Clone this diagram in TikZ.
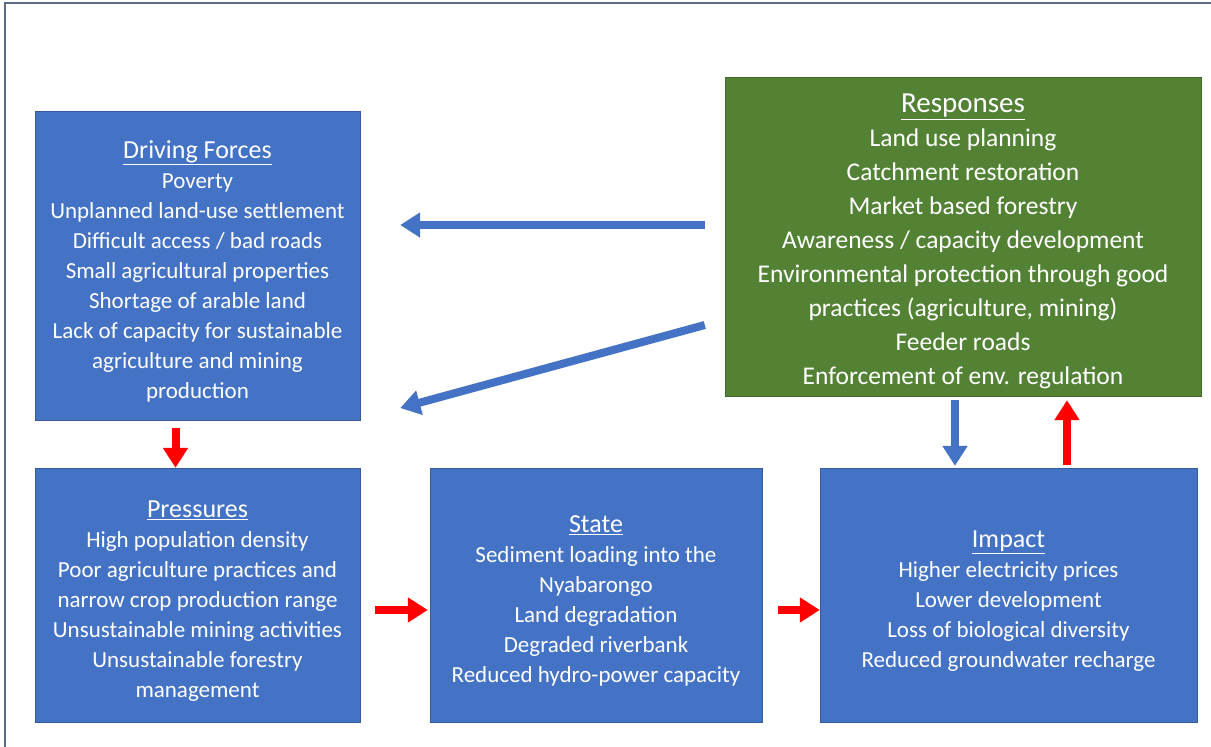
\documentclass[tikz,border=0pt]{standalone}
\usepackage{fontspec}
\setmainfont{Carlito}
\usetikzlibrary{arrows.meta, calc}
\definecolor{boxblue}{HTML}{4472C4}
\definecolor{boxgreen}{HTML}{548235}
\definecolor{framegray}{HTML}{5B6B8C}
\newcommand{\titre}[2][26]{{\rule{0pt}{29pt}\fontsize{#1}{30}\selectfont\underline{#2}}}
\begin{document}
\begin{tikzpicture}[x=1pt, y=-1pt,
    dpsir/.style={draw=boxblue!80!black, fill=boxblue, text=white, align=center,
      font=\fontsize{23}{30}\selectfont, inner sep=0pt},
    reponse/.style={dpsir, draw=boxgreen!80!black, fill=boxgreen, font=\fontsize{25.5}{34}\selectfont},
    flechebleue/.style={line width=8pt, boxblue, -{Triangle[length=20pt, width=24pt]}},
    flecherouge/.style={line width=8pt, red, -{Triangle[length=20pt, width=24pt]}}]
    \useasboundingbox (0,0) rectangle (1211,747);
    % Cadre de la figure
    \draw[framegray, line width=1.2pt] (5,747) -- (5,3) -- (1211,3);

    % Les cinq boites
    \node[dpsir, minimum width=325pt, minimum height=309pt] (drivers) at (197.5,265.5)
      {\titre{Driving Forces}\\ Poverty\\ Unplanned land-use settlement\\ Difficult access / bad roads\\
       Small agricultural properties\\ Shortage of arable land\\ Lack of capacity for sustainable\\
       agriculture and mining\\ production};
    \node[reponse, minimum width=476pt, minimum height=319pt] (responses) at (963,236.5)
      {\titre[29]{Responses}\\ Land use planning\\ Catchment restoration\\ Market based forestry\\
       Awareness / capacity development\\ Environmental protection through good\\
       practices (agriculture, mining)\\ Feeder roads\\ Enforcement of env. regulation};
    \node[dpsir, minimum width=325pt, minimum height=254pt] (pressures) at (197.5,595)
      {\titre{Pressures}\\ High population density\\ Poor agriculture practices and\\
       narrow crop production range\\ Unsustainable mining activities\\ Unsustainable forestry\\ management};
    \node[dpsir, minimum width=332pt, minimum height=254pt] (state) at (596,595)
      {\titre{State}\\ Sediment loading into the\\ Nyabarongo\\ Land degradation\\
       Degraded riverbank\\ Reduced hydro-power capacity};
    \node[dpsir, minimum width=377pt, minimum height=254pt] (impact) at (1008.5,595)
      {\titre{Impact}\\ Higher electricity prices\\ Lower development\\
       Loss of biological diversity\\ Reduced groundwater recharge};

    % Fleches bleues (reponses)
    \draw[flechebleue] ($(responses.west)+(-20,-11.5)$) -- ($(drivers.east)+(40,-40.5)$);
    \draw[flechebleue] ($(responses.west)+(-20,88.5)$) -- ($(drivers.east)+(40,142.5)$);
    \draw[flechebleue] ($(responses.south)+(-8,4)$) -- ($(impact.north)+(-53.5,-2)$);

    % Fleches rouges (chaine causale)
    \draw[flecherouge] ($(drivers.south)+(-22,8)$) -- ($(pressures.north)+(-22,0)$);
    \draw[flecherouge] ($(pressures.east)+(15,15)$) -- ($(state.west)+(-2,15)$);
    \draw[flecherouge] ($(state.east)+(16,15)$) -- ($(impact.west)+(0,15)$);
    \draw[flecherouge] ($(impact.north)+(58.5,-3)$) -- ($(responses.south)+(104,4)$);
\end{tikzpicture}
\end{document}
